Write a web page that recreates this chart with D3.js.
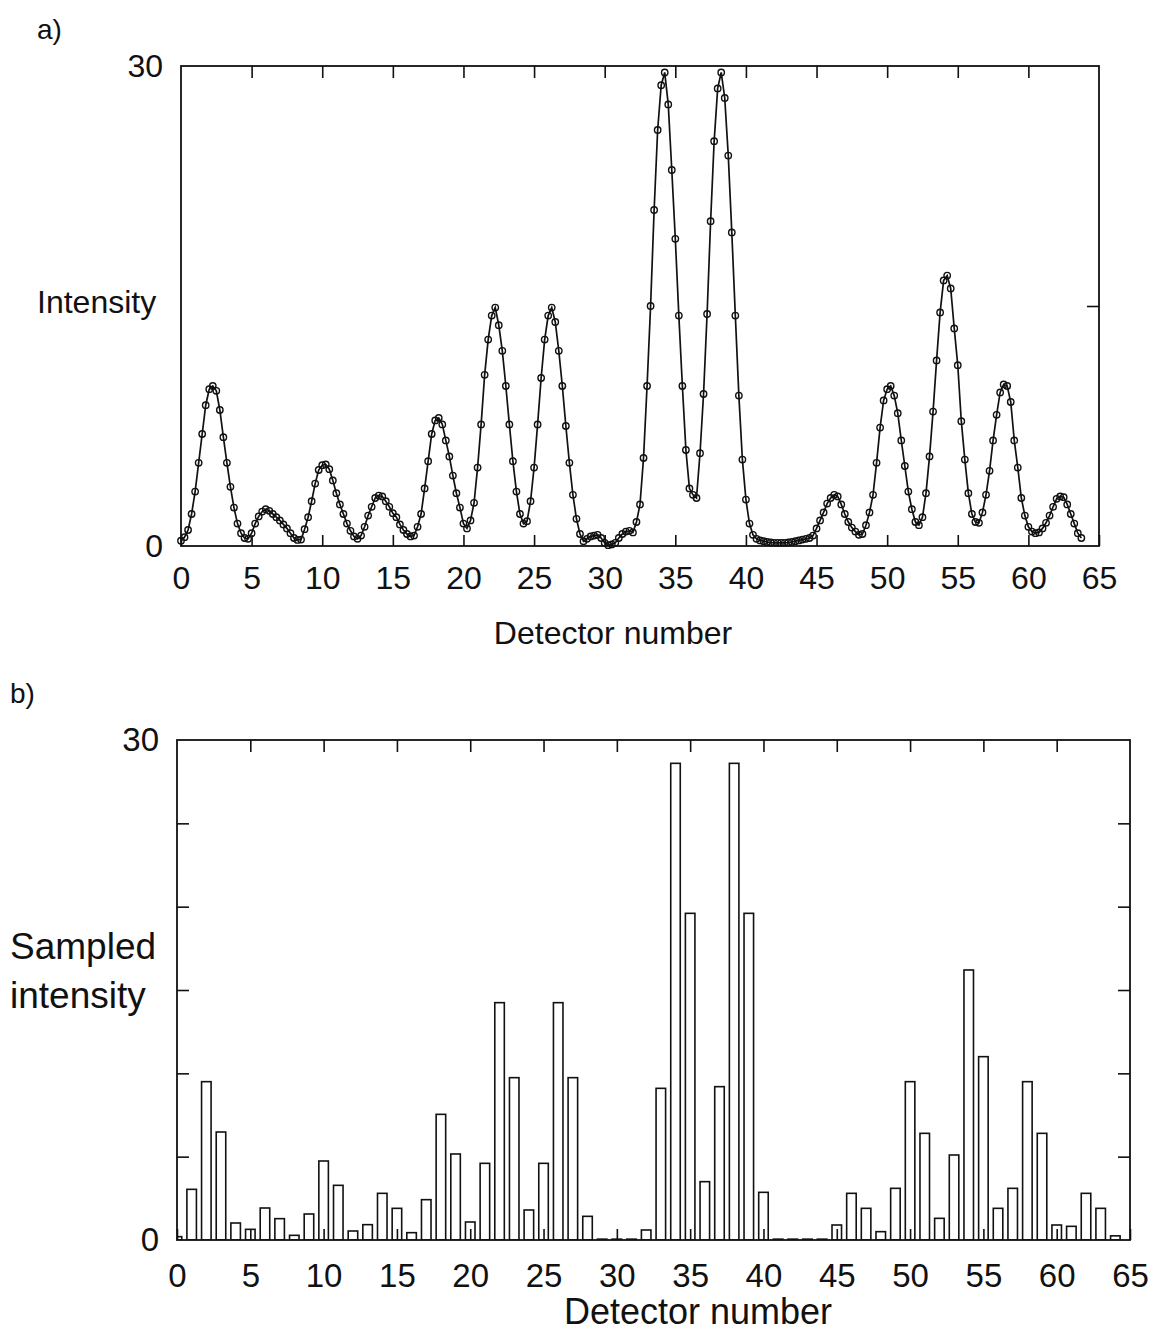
<!DOCTYPE html>
<html>
<head>
<meta charset="utf-8">
<script src="https://cdn.jsdelivr.net/npm/d3@7"></script>
<style>
	body { margin: 0; background: #fff; }
	text { font-family: "Liberation Sans", Arial, Helvetica, sans-serif; fill: #111; }
</style>
</head>
<body>
<svg></svg>
<script>

	var width = 1168,
		height = 1332;

	// intensity profile, 4 samples per detector (0, 0.25, ... 63.75)
	var samplesPerDetector = 4;
	var intensity = [
		0.33, 0.55, 1.0, 2.0,    3.4, 5.2, 7.0, 8.8,      9.8, 10.0, 9.7, 8.5,     6.8, 5.2, 3.7, 2.4,
		1.4, 0.8, 0.5, 0.45,     0.8, 1.4, 1.85, 2.15,    2.3, 2.2, 2.0, 1.8,      1.6, 1.35, 1.1, 0.8,
		0.5, 0.38, 0.4, 1.05,    1.8, 2.8, 3.9, 4.75,     5.05, 5.1, 4.8, 4.1,     3.3, 2.6, 2.0, 1.4,
		0.95, 0.6, 0.45, 0.65,   1.2, 1.9, 2.45, 3.0,     3.15, 3.1, 2.8, 2.45,    2.05, 1.8, 1.35, 1.0,
		0.75, 0.6, 0.65, 1.2,    2.0, 3.6, 5.3, 7.0,      7.85, 8.0, 7.6, 6.6,     5.6, 4.4, 3.3, 2.4,
		1.4, 1.1, 1.6, 2.7,      4.9, 7.6, 10.7, 12.9,    14.4, 14.9, 13.8, 12.2,  10.0, 7.6, 5.3, 3.4,
		2.0, 1.4, 1.55, 2.8,     4.9, 7.6, 10.5, 12.9,    14.4, 14.9, 14.0, 12.2,  10.0, 7.5, 5.2, 3.2,
		1.7, 0.75, 0.3, 0.45,    0.6, 0.65, 0.7, 0.5,     0.2, 0.05, 0.1, 0.2,     0.5, 0.75, 0.9, 0.95,
		0.85, 1.5, 2.6, 5.5,     10.0, 15.0, 21.0, 26.0,  28.8, 29.6, 27.6, 23.5,  19.2, 14.4, 10.0, 6.0,
		3.6, 3.2, 3.0, 5.8,      9.5, 14.5, 20.3, 25.3,   28.6, 29.6, 28.0, 24.4,  19.6, 14.4, 9.4, 5.4,
		2.9, 1.4, 0.7, 0.45,     0.35, 0.3, 0.25, 0.22,   0.2, 0.2, 0.2, 0.2,      0.22, 0.25, 0.3, 0.35,
		0.4, 0.45, 0.5, 0.65,    1.1, 1.6, 2.1, 2.65,     3.0, 3.2, 3.1, 2.6,      2.0, 1.5, 1.15, 0.9,
		0.7, 0.75, 1.3, 2.1,     3.2, 5.2, 7.4, 9.1,      9.8, 10.0, 9.4, 8.3,     6.6, 5.0, 3.4, 2.3,
		1.5, 1.3, 1.8, 3.3,      5.6, 8.4, 11.6, 14.6,    16.6, 16.9, 16.1, 13.6,  11.3, 7.8, 5.4, 3.3,
		2.0, 1.5, 1.45, 2.1,     3.2, 4.7, 6.6, 8.2,      9.6, 10.1, 10.0, 9.0,    6.6, 4.9, 3.0, 1.9,
		1.2, 0.9, 0.8, 0.85,     1.1, 1.45, 1.9, 2.45,    2.95, 3.1, 3.05, 2.6,    2.0, 1.4, 0.8, 0.5
	];

	// one sample per detector, detectors 0..64
	var sampled = [
		0.2, 3.04, 9.5, 6.48, 1.02, 0.64, 1.92, 1.28, 0.28, 1.56,
		4.74, 3.28, 0.54, 0.92, 2.8, 1.9, 0.44, 2.42, 7.54, 5.16,
		1.08, 4.6, 14.24, 9.74, 1.8, 4.6, 14.24, 9.74, 1.42, 0.05,
		0.05, 0.05, 0.6, 9.1, 28.6, 19.6, 3.5, 9.2, 28.6, 19.6,
		2.86, 0.05, 0.05, 0.05, 0.05, 0.9, 2.8, 1.9, 0.5, 3.1,
		9.5, 6.4, 1.3, 5.1, 16.2, 11.0, 1.9, 3.1, 9.5, 6.4,
		0.9, 0.82, 2.8, 1.9, 0.25
	];

	var xTicks = [0, 5, 10, 15, 20, 25, 30, 35, 40, 45, 50, 55, 60, 65];
	var yLabels = [0, 30];
	var yTicksA = [15];
	var yTicksB = [5, 10, 15, 20, 25];

	var svg = d3.select("svg")
		.attr("width", width)
		.attr("height", height);

	svg.append("rect").attr("width", width).attr("height", height).attr("fill", "white");

	// ---------- panel a ----------
	var wA = 918, hA = 480;
	var gA = svg.append("g").attr("transform", "translate(181,66)");

	var xA = d3.scaleLinear().domain([0, 65]).range([0, wA]);
	var yA = d3.scaleLinear().domain([0, 30]).range([hA, 0]);

	var fixAxis = function(g, size) {
		g.select(".domain").remove();
		g.selectAll(".tick line").attr("stroke", "#111").attr("stroke-width", 1.6);
		g.selectAll(".tick text").attr("font-size", size).attr("fill", "#111")
			.attr("font-family", "Liberation Sans, Arial, sans-serif");
	}

	gA.append("g").attr("transform", "translate(0," + hA + ")")
		.call(d3.axisBottom(xA).tickValues(xTicks).tickSizeInner(-11).tickSizeOuter(0).tickPadding(20))
		.call(fixAxis, 32);
	gA.append("g")
		.call(d3.axisTop(xA).tickValues(xTicks.slice(1, -1)).tickSize(-12).tickFormat(""))
		.call(fixAxis, 32);
	gA.append("g")
		.call(d3.axisLeft(yA).tickValues(yLabels).tickSize(0).tickPadding(18))
		.call(fixAxis, 32);
	gA.append("g").attr("transform", "translate(" + wA + ",0)")
		.call(d3.axisRight(yA).tickValues(yTicksA).tickSize(-12).tickFormat(""))
		.call(fixAxis, 32);

	gA.append("rect")
		.attr("width", wA).attr("height", hA)
		.attr("fill", "none").attr("stroke", "#111").attr("stroke-width", 1.8);

	var line = d3.line()
		.x(function(d, i) { return xA(i / samplesPerDetector); })
		.y(function(d) { return yA(d); });

	gA.append("path")
		.datum(intensity)
		.attr("d", line)
		.attr("fill", "none")
		.attr("stroke", "#111")
		.attr("stroke-width", 1.7);

	gA.selectAll(".pt")
		.data(intensity)
		.enter()
		.append("circle")
		.attr("class", "pt")
		.attr("cx", function(d, i) { return xA(i / samplesPerDetector); })
		.attr("cy", function(d) { return yA(d); })
		.attr("r", 3.2)
		.attr("fill", "none")
		.attr("stroke", "#111")
		.attr("stroke-width", 1.4);

	svg.append("text").attr("x", 37).attr("y", 39).attr("font-size", 28).text("a)");
	svg.append("text").attr("x", 37).attr("y", 313).attr("font-size", 32).text("Intensity");
	svg.append("text").attr("x", 181 + wA / 2 - 27).attr("y", 644).attr("font-size", 32)
		.attr("text-anchor", "middle").text("Detector number");

	// ---------- panel b ----------
	var wB = 953, hB = 500;
	var gB = svg.append("g").attr("transform", "translate(177,740)");

	var xB = d3.scaleLinear().domain([0, 65]).range([0, wB]);
	var yB = d3.scaleLinear().domain([0, 30]).range([hB, 0]);
	var barW = xB(0.65) - xB(0);

	svg.append("clipPath").attr("id", "clipB")
		.append("rect").attr("width", wB).attr("height", hB);

	gB.append("g")
		.attr("clip-path", "url(#clipB)")
		.selectAll(".bar")
		.data(sampled)
		.enter()
		.append("rect")
		.attr("class", "bar")
		.attr("x", function(d, i) { return xB(i) - barW / 2; })
		.attr("y", function(d) { return yB(d); })
		.attr("width", barW)
		.attr("height", function(d) { return hB - yB(d); })
		.attr("fill", "white")
		.attr("stroke", "#111")
		.attr("stroke-width", 1.6);

	gB.append("g").attr("transform", "translate(0," + hB + ")")
		.call(d3.axisBottom(xB).tickValues(xTicks).tickSizeInner(-11).tickSizeOuter(0).tickPadding(24))
		.call(fixAxis, 33);
	gB.append("g")
		.call(d3.axisTop(xB).tickValues(xTicks.slice(1, -1)).tickSize(-12).tickFormat(""))
		.call(fixAxis, 33);
	gB.append("g")
		.call(d3.axisLeft(yB).tickValues(yLabels).tickSize(0).tickPadding(18))
		.call(fixAxis, 33);
	gB.append("g")
		.call(d3.axisLeft(yB).tickValues(yTicksB).tickSize(-12).tickFormat(""))
		.call(fixAxis, 33);
	gB.append("g").attr("transform", "translate(" + wB + ",0)")
		.call(d3.axisRight(yB).tickValues(yTicksB).tickSize(-12).tickFormat(""))
		.call(fixAxis, 33);

	gB.append("rect")
		.attr("width", wB).attr("height", hB)
		.attr("fill", "none").attr("stroke", "#111").attr("stroke-width", 1.8);

	svg.append("text").attr("x", 10).attr("y", 703).attr("font-size", 28).text("b)");
	svg.append("text").attr("x", 10).attr("y", 959).attr("font-size", 37).text("Sampled");
	svg.append("text").attr("x", 10).attr("y", 1008).attr("font-size", 37).text("intensity");
	svg.append("text").attr("x", 698).attr("y", 1324).attr("font-size", 36)
		.attr("text-anchor", "middle").text("Detector number");

</script>
</body>
</html>
